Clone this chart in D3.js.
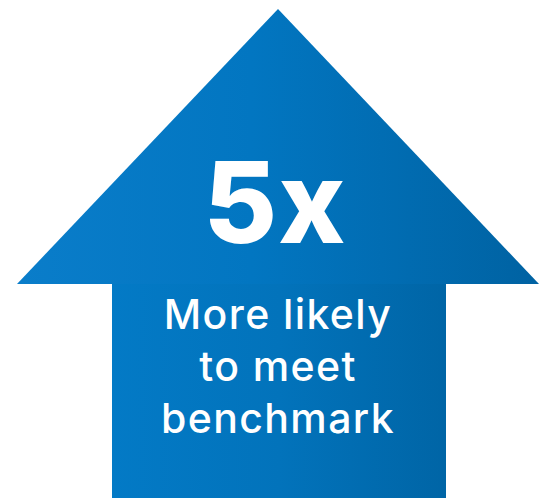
<!DOCTYPE html>
<html>
<head>
<meta charset="utf-8">
<script src="https://cdn.jsdelivr.net/npm/d3@7"></script>
<style>
  html, body { margin: 0; padding: 0; background: #fff; }
  svg { display: block; }
</style>
</head>
<body>
<svg id="viz" width="543" height="498"></svg>
<script>

// headline figure and caption
var multiplier = [ 5 ];
var suffix = [ 'x' ];
var labelLines = [ 'More likely', 'to meet', 'benchmark' ];

var width = 543;
var height = 498;

var svg = d3.select( '#viz' );

// arrow outline in unit space: x -1..1 (head width), y 0 (tip) .. 1 (bottom)
var x = d3.scaleLinear().domain( [ -1, 1 ] ).range( [ 17, 539 ] );
var y = d3.scaleLinear().domain( [ 0, 1 ] ).range( [ 9, height ] );

var headBase = y.invert( 284 );
var shaftHalf = ( x.invert( 446 ) - x.invert( 112 ) ) / 2;
var shaftMid = ( x.invert( 446 ) + x.invert( 112 ) ) / 2;

var defs = svg.append( 'defs' );

var gradHead = defs.append( 'linearGradient' )
	.attr( 'id', 'grad-head' )
	.attr( 'gradientUnits', 'userSpaceOnUse' )
	.attr( 'x1', x( -1 ) ).attr( 'x2', x( 1 ) )
	.attr( 'y1', 0 ).attr( 'y2', 0 );
gradHead.append( 'stop' ).attr( 'offset', '0%' ).attr( 'stop-color', '#0a7dca' );
gradHead.append( 'stop' ).attr( 'offset', '45%' ).attr( 'stop-color', '#0276c1' );
gradHead.append( 'stop' ).attr( 'offset', '100%' ).attr( 'stop-color', '#0062a2' );

var gradShaft = defs.append( 'linearGradient' )
	.attr( 'id', 'grad-shaft' )
	.attr( 'gradientUnits', 'userSpaceOnUse' )
	.attr( 'x1', x( shaftMid - shaftHalf ) ).attr( 'x2', x( shaftMid + shaftHalf ) )
	.attr( 'y1', 0 ).attr( 'y2', 0 );
gradShaft.append( 'stop' ).attr( 'offset', '0%' ).attr( 'stop-color', '#037ac6' );
gradShaft.append( 'stop' ).attr( 'offset', '50%' ).attr( 'stop-color', '#0273bb' );
gradShaft.append( 'stop' ).attr( 'offset', '100%' ).attr( 'stop-color', '#0065a6' );

var line = d3.line()
	.x( function ( d ) { return x( d[0] ); } )
	.y( function ( d ) { return y( d[1] ); } );

// shaft
svg.append( 'path' )
	.attr( 'd', line( [
		[ shaftMid - shaftHalf, headBase - 0.002 ],
		[ shaftMid + shaftHalf, headBase - 0.002 ],
		[ shaftMid + shaftHalf, 1 ],
		[ shaftMid - shaftHalf, 1 ]
	] ) + 'Z' )
	.style( 'fill', 'url(#grad-shaft)' );

// head
svg.append( 'path' )
	.attr( 'd', line( [ [ 0, 0 ], [ 1, headBase ], [ -1, headBase ] ] ) + 'Z' )
	.style( 'fill', 'url(#grad-head)' );

// big number
svg.append( 'text' )
	.attr( 'x', 275 )
	.attr( 'y', 243 )
	.attr( 'text-anchor', 'middle' )
	.style( 'font-family', 'Inter, "Open Sans", sans-serif' )
	.style( 'font-weight', 800 )
	.style( 'font-size', '113px' )
	.style( 'letter-spacing', '1px' )
	.style( 'fill', '#fff' )
	.text( multiplier[0] + suffix[0] );

// caption
svg.selectAll( 'text.caption' )
	.data( labelLines )
	.enter()
	.append( 'text' )
	.classed( 'caption', true )
	.attr( 'x', 278 )
	.attr( 'y', function ( d, i ) { return 329 + i * 52; } )
	.attr( 'text-anchor', 'middle' )
	.style( 'font-family', 'Inter, "Open Sans", sans-serif' )
	.style( 'font-weight', 500 )
	.style( 'font-size', '41px' )
	.style( 'letter-spacing', '1.4px' )
	.style( 'fill', '#fff' )
	.text( function ( d ) { return d; } );

</script>
</body>
</html>
